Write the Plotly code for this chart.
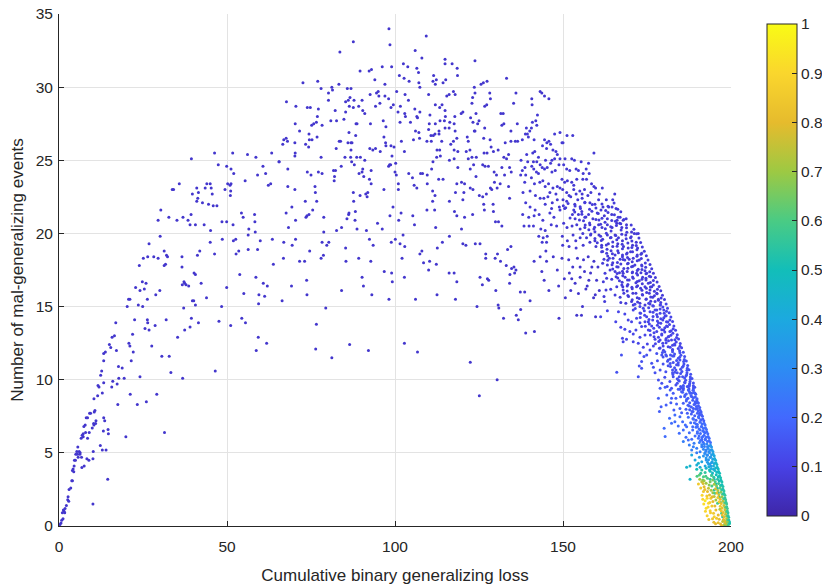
import plotly.graph_objects as go

# points, (loss, events); grouped by region
arm_pts = [
    (46.3,25.5),(51.7,25.5),(56.1,25.4),(58.6,25.2),(63.3,25.5),(39.4,25.1),(47.4,24.7),(49.9,24.6),(51.2,24.4),(52.0,24.1),
    (60.7,24.6),(61.5,24.1),(59.1,24.0),(65.5,24.9),(35.8,23.4),(33.7,23.0),(34.1,23.0),(44.0,23.4),(45.0,23.4),(43.5,23.1),
    (41.0,23.1),(41.5,22.8),(45.3,23.1),(45.6,22.7),(39.7,22.7),(41.3,22.4),(41.0,22.2),(42.7,22.1),(44.5,22.0),(45.9,21.9),
    (47.0,21.9),(49.4,23.0),(50.2,23.4),(50.9,23.3),(51.2,23.4),(51.1,22.9),(51.0,22.6),(55.4,23.6),(63.0,23.4),(62.3,23.3),
    (30.3,21.6),(29.5,20.9),(32.7,21.1),(35.1,20.9),(36.9,21.1),(38.4,20.9),(39.3,21.3),(39.0,20.6),(40.6,20.6),(43.2,20.6),
    (45.1,20.2),(48.5,20.8),(49.9,20.8),(51.8,20.6),(54.3,21.4),(54.8,21.1),(58.2,21.3),(58.3,20.8),(56.5,20.3),(58.4,20.1),
    (56.3,19.9),(30.1,19.8),(26.8,19.3),(48.6,19.6),(45.0,19.4),(51.9,19.5),(52.6,19.6),(59.9,19.5),(63.5,19.6),(31.3,18.8),
    (32.0,18.5),(32.3,18.4),(25.1,18.3),(26.4,18.4),(28.2,18.4),(29.5,18.3),(23.9,17.8),(31.3,17.8),(31.7,17.9),(36.6,18.4),
    (36.6,17.7),(41.2,18.5),(41.9,18.8),(46.3,18.6),(52.7,18.6),(53.5,18.8),(56.3,18.9),(59.1,18.9),(63.8,17.9),(24.8,16.7),
    (25.9,16.6),(22.8,16.3),(24.1,16.1),(25.4,16.2),(30.0,16.1),(28.8,15.8),(21.1,15.5),(20.7,15.5),(26.3,15.5),(20.3,15.0),
    (23.6,15.1),(24.9,15.0),(36.7,16.5),(37.2,16.7),(37.4,16.6),(37.8,16.5),(38.6,16.4),(40.2,17.3),(40.6,17.2),(42.3,16.6),
    (39.7,15.4),(40.1,15.4),(40.6,15.1),(37.1,14.9),(43.9,15.6),(48.4,15.0),(49.9,16.3),(53.8,17.2),(55.0,15.9),(58.6,17.0),
    (60.8,16.6),(62.0,16.4),(59.5,15.8),(61.2,15.7),(59.4,15.2),(16.9,13.9),(22.5,14.1),(26.3,14.1),(26.4,13.9),(25.6,13.5),
    (26.8,13.4),(28.6,13.7),(31.9,14.1),(39.4,14.2),(41.5,13.9),(37.4,13.4),(39.0,13.6),(47.6,14.0),(51.1,13.7),(54.4,14.2),
    (55.5,13.9),(16.5,13.0),(15.8,12.9),(21.9,13.1),(20.8,12.5),(21.1,12.3),(15.0,12.4),(15.4,12.2),(13.8,11.9),(13.3,11.8),
    (13.3,11.3),(17.1,12.0),(27.6,12.3),(22.1,11.9),(21.5,11.3),(30.6,11.6),(32.8,11.6),(35.3,12.9),(33.3,10.5),(36.8,10.1),
    (46.5,10.6),(59.3,12.9),(61.8,12.5),(58.7,12.0),(12.7,10.6),(12.4,10.3),(17.7,10.9),(18.8,10.8),(17.8,10.1),(19.4,10.1),
    (16.0,9.9),(15.7,9.5),(17.3,9.7),(13.3,9.8),(11.6,9.6),(11.9,9.5),(12.9,9.1),(11.5,8.9),(10.4,8.7),(21.2,9.0),
    (24.1,10.2),(29.1,9.0),(23.3,8.3),(26.0,8.5),(17.5,8.3),(10.7,7.9),(10.5,7.8),(9.4,7.7),(9.1,7.7),(8.5,7.4),
    (8.1,7.4),(13.3,7.4),(13.6,7.2),(11.0,7.2),(10.9,7.0),(7.8,6.9),(7.4,6.8),(7.9,6.4),(7.2,6.3),(9.0,6.4),
    (10.3,7.0),(10.4,6.9),(9.9,6.7),(8.5,6.0),(6.6,6.0),(6.9,6.2),(7.2,6.1),(14.6,6.6),(14.7,6.3),(13.2,6.5),
    (19.9,6.1),(31.4,6.4),(5.6,5.4),(5.3,5.1),(6.0,5.1),(6.3,5.0),(5.5,4.9),(5.0,4.9),(6.2,4.9),(6.7,4.7),
    (5.7,4.7),(8.3,4.6),(8.9,4.5),(10.1,4.6),(10.2,5.1),(12.3,5.5),(12.9,5.2),(14.0,5.2),(4.6,4.5),(4.9,4.5),
    (4.5,4.1),(4.2,3.9),(4.0,3.8),(4.4,3.7),(6.8,4.0),(7.5,4.1),(4.0,3.1),(3.8,3.1),(14.5,3.2),(3.5,2.6),
    (3.0,2.5),(2.7,2.0),(2.6,1.8),(2.9,1.7),(2.2,1.4),(1.8,1.2),(1.3,1.1),(1.5,1.0),(1.0,0.9),(1.7,0.9),
    (1.2,0.5),(0.8,0.4),(0.6,0.2),(0.3,0.1),(10.1,1.5),
]

crown_pts = [
    (98.2,34.0),(87.6,33.1),(83.6,32.4),(98.5,32.9),(109.3,33.5),(106.0,32.5),(108.0,32.0),(114.9,31.9),(114.9,31.6),(117.0,31.6),
    (118.5,31.3),(118.6,30.8),(72.6,30.3),(77.0,30.4),(89.6,31.1),(92.3,31.1),(93.0,31.2),(96.2,31.4),(99.0,31.4),(102.5,31.6),
    (103.8,31.4),(106.5,31.3),(107.0,31.0),(101.3,30.8),(102.7,30.6),(104.2,30.4),(94.0,30.5),(97.0,30.2),(107.1,30.3),(107.4,30.0),
    (111.5,30.8),(112.3,30.5),(112.0,30.2),(111.3,30.4),(115.1,30.5),(114.3,30.3),(78.0,29.9),(80.2,29.6),(81.2,30.0),(81.4,29.8),
    (83.3,30.2),(85.8,29.9),(86.9,29.9),(80.2,29.1),(86.6,29.3),(86.1,29.1),(85.3,29.0),(87.8,29.1),(90.2,29.1),(92.6,29.5),
    (94.5,29.6),(95.0,29.7),(95.2,29.4),(97.0,29.4),(98.1,29.2),(100.5,29.7),(103.0,29.5),(104.0,29.1),(110.0,29.5),(115.4,29.4),
    (116.1,29.5),(117.4,29.7),(117.9,29.5),(74.8,28.6),(73.9,28.6),(70.5,28.7),(67.7,29.0),(77.2,28.5),(82.2,28.4),(85.3,28.3),
    (86.4,28.7),(87.6,28.6),(89.2,28.7),(90.4,28.4),(91.0,28.2),(94.2,28.7),(95.5,28.9),(98.8,28.6),(99.5,28.8),(101.6,28.7),
    (100.9,28.3),(102.9,28.2),(103.1,28.0),(105.9,28.5),(106.5,28.0),(107.4,28.3),(110.4,28.1),(112.0,28.8),(113.3,28.6),(114.0,28.8),
    (114.9,28.4),(115.0,28.0),(117.8,28.0),(70.3,27.5),(71.6,27.0),(74.4,26.8),(75.2,27.4),(75.8,27.5),(76.6,27.6),(78.3,27.4),
    (76.9,28.0),(80.9,27.7),(82.6,27.7),(84.8,27.8),(88.4,27.5),(92.7,27.5),(96.5,27.7),(97.3,27.3),(101.5,27.6),(104.6,27.6),
    (106.7,27.9),(110.2,27.5),(112.0,27.5),(113.4,27.7),(114.7,27.7),(116.3,27.6),(117.6,27.5),(114.9,27.2),(116.1,27.2),(117.9,27.0),
    (110.0,27.1),(111.9,26.8),(113.1,27.0),(74.5,26.4),(75.3,26.4),(76.8,26.6),(73.4,26.1),(74.3,25.9),(66.9,26.4),(67.6,26.5),
    (68.0,26.3),(66.6,26.1),(70.2,26.2),(83.8,26.3),(82.5,25.8),(83.4,26.3),(86.9,26.2),(87.2,26.2),(86.0,26.2),(88.3,26.7),
    (86.3,26.9),(88.7,27.5),(86.9,25.7),(92.5,25.8),(93.4,25.7),(94.2,25.8),(95.6,25.6),(96.7,26.6),(97.2,26.2),(97.3,26.0),
    (98.8,26.0),(99.7,25.9),(101.9,26.3),(102.8,25.6),(105.5,26.4),(106.1,27.0),(107.1,26.9),(107.3,26.5),(109.5,26.3),(110.7,26.7),
    (111.4,26.7),(110.8,26.3),(113.1,26.8),(113.9,26.3),(116.6,26.1),(117.4,26.3),(118.4,26.5),(112.5,25.7),(113.3,25.7),(117.6,25.7),
    (118.7,25.6),(68.1,24.4),(65.5,24.9),(70.3,25.5),(70.2,25.3),(73.9,24.2),(75.0,24.0),(77.2,24.2),(78.3,24.1),(78.0,25.2),
    (76.2,23.2),(76.3,22.8),(76.7,22.2),(73.3,22.2),(73.5,21.1),(73.8,21.2),(74.4,21.3),(75.5,21.6),(78.8,21.1),(78.8,20.1),
    (82.6,20.2),(84.1,20.4),(85.7,21.0),(86.2,21.3),(86.3,21.4),(88.1,20.9),(88.2,21.5),(88.7,20.3),(81.7,24.3),(82.3,24.3),
    (82.0,23.9),(81.9,23.6),(84.0,24.6),(85.1,25.2),(86.8,25.2),(87.1,24.9),(87.9,24.7),(88.6,25.2),(89.7,25.2),(91.0,25.0),
    (90.4,24.4),(90.2,24.2),(89.3,24.1),(90.7,23.9),(92.9,24.3),(92.4,23.7),(92.9,23.4),(87.6,22.8),(87.7,22.2),(89.6,22.6),
    (91.3,22.7),(91.9,22.8),(91.7,22.5),(96.7,23.0),(98.1,24.6),(98.4,24.7),(98.7,24.7),(99.1,25.3),(100.0,24.2),(100.4,24.0),
    (100.2,24.8),(101.0,23.4),(101.0,23.0),(99.4,21.8),(98.5,21.2),(101.8,21.4),(101.1,20.9),(94.8,20.7),(96.2,20.3),(91.5,20.2),
    (104.1,24.1),(105.2,23.8),(105.7,23.3),(106.5,23.1),(107.6,24.1),(108.2,24.1),(109.6,24.0),(109.6,23.4),(110.9,24.4),(111.3,24.9),
    (112.4,25.2),(113.0,23.7),(114.3,23.7),(113.5,25.3),(116.2,25.0),(117.6,25.1),(118.7,24.5),(118.4,23.4),(118.0,22.8),(116.2,22.2),
    (117.7,21.5),(118.4,21.2),(111.2,22.9),(111.9,22.6),(111.2,22.2),(111.8,21.6),(109.5,21.6),(105.3,21.2),(105.8,20.6),(112.1,20.4),
    (116.2,19.8),(114.1,19.4),(112.6,19.0),(110.3,18.1),(108.5,18.0),(110.0,17.5),(112.3,17.9),(116.1,17.3),(117.6,17.3),(118.4,16.7),
    (118.0,15.5),(112.5,15.8),(107.4,18.6),(108.0,18.8),(106.1,15.5),(106.7,11.9),(102.8,12.5),(102.4,19.9),(102.9,19.1),(102.1,18.3),
    (101.5,19.3),(100.1,19.6),(98.9,19.4),(96.8,17.4),(99.0,17.3),(99.2,16.7),(98.2,15.5),(102.8,17.0),(93.5,19.2),(92.4,19.6),
    (92.8,18.1),(90.2,17.0),(90.6,16.4),(93.1,15.8),(89.2,18.3),(85.3,19.0),(85.4,18.1),(84.1,16.1),(80.3,19.4),(79.7,19.2),
    (78.3,19.4),(78.0,18.3),(78.7,18.5),(74.6,18.8),(73.7,16.8),(73.8,15.8),(73.1,18.1),(71.6,18.1),(70.4,19.6),(69.4,19.2),
    (69.2,16.4),(66.9,19.4),(66.8,18.3),(66.4,15.4),(79.4,14.9),(76.6,13.8),(76.4,12.1),(81.2,11.5),(86.5,12.4),(92.1,12.0),
    (68.3,20.4),(67.6,21.4),(69.3,21.8),(70.4,20.9),(68.1,23.2),(70.2,23.0),
]

shoulder_pts = [
    (123.8,31.8),(133.2,30.6),(136.0,29.6),(143.2,29.7),(143.7,29.6),(144.5,29.4),(145.8,29.2),(140.7,29.2),(140.8,28.8),(135.3,28.9),
    (136.4,27.5),(134.5,27.0),(134.5,26.3),(135.8,26.3),(136.5,26.3),(132.8,26.2),(131.8,27.4),(132.4,27.5),(132.2,28.2),(131.5,28.2),
    (126.7,28.7),(127.3,28.8),(128.4,29.2),(128.2,29.6),(126.3,30.3),(127.4,30.4),(125.6,30.2),(123.6,30.0),(123.8,29.6),(122.9,28.9),
    (123.1,29.3),(124.1,28.2),(122.5,27.9),(123.2,27.6),(124.6,27.5),(125.0,27.7),(126.7,27.2),(120.2,28.3),(119.7,28.2),(123.8,27.0),
    (123.6,27.0),(121.5,26.6),(121.8,26.3),(121.2,25.6),(122.3,25.7),(121.8,25.1),(126.4,26.5),(128.3,26.4),(128.6,25.9),(129.3,25.6),
    (126.5,25.5),(127.4,25.5),(130.7,25.7),(132.4,25.2),(133.2,25.1),(133.8,25.4),(124.2,25.2),(122.9,25.2),(123.4,24.7),(122.4,24.4),
    (126.1,24.7),(126.8,24.6),(127.8,24.6),(129.5,24.2),(130.2,24.0),(129.6,23.5),(131.3,23.4),(130.4,23.1),(131.8,24.5),(134.1,24.5),
    (134.6,24.2),(132.6,24.0),(124.1,23.9),(125.1,22.6),(126.1,22.5),(127.2,22.7),(122.4,23.1),(123.2,23.0),(120.7,23.4),(119.8,23.5),
    (120.5,22.8),(120.2,22.3),(128.4,23.1),(128.8,23.0),(133.8,23.2),(134.1,22.4),(129.3,21.5),(129.9,20.8),(130.8,20.8),(131.8,20.5),
    (126.4,22.0),(126.6,21.6),(129.2,22.0),(123.1,21.3),(120.7,21.1),(119.8,20.3),(120.2,19.3),(121.1,19.2),(125.3,19.3),(123.9,19.3),
    (127.0,18.6),(127.0,18.3),(129.8,18.3),(130.5,18.6),(131.4,18.1),(133.1,17.8),(133.5,18.9),(134.5,19.1),(135.4,17.7),(134.7,17.6),
    (135.6,17.3),(136.0,17.5),(134.2,17.2),(134.1,16.6),(125.3,17.0),(126.0,16.5),(127.5,16.9),(127.9,16.8),(130.0,16.1),(137.3,16.0),
    (138.6,16.0),(140.2,15.4),(124.4,15.0),(130.7,15.1),(130.9,14.9),(132.3,14.2),(137.4,14.8),(136.7,14.1),(136.1,14.4),(138.9,13.2),
    (141.5,13.3),(122.4,11.2),(130.4,10.0),(125.1,8.9),
    (143.7,17.4),(145.8,16.1),(144.4,16.8),(148.7,16.4),(150.4,16.9),(150.7,15.6),(152.6,16.9),(154.1,14.4),(155.5,14.4),(155.8,15.0),
    (156.8,16.2),(157.2,16.4),(158.2,17.3),(158.6,17.7),(159.1,15.6),(159.7,14.3),(148.8,14.2),(144.9,18.8),(147.1,18.4),(143.2,18.4),
    (145.1,18.1),(141.4,18.1),(148.3,17.5),(149.7,18.3),(151.7,18.2),(152.9,17.7),(154.3,18.3),(155.1,17.7),(156.1,18.2),(157.5,18.4),
    (159.2,18.1),(160.4,17.7),(160.0,16.8),(160.8,16.1),(159.6,15.8),(151.9,17.3),(153.6,16.6),(155.1,17.0),(156.4,17.4),(157.7,16.8),
    (154.6,15.9),(152.3,16.1),
]

ridge_pts = [
    (142.4,28.1),(141.9,27.7),(140.9,27.6),(139.1,27.2),(138.8,26.8),(139.4,26.8),(140.1,27.0),(140.6,27.2),(139.7,26.6),(137.9,26.4),
    (141.4,26.4),(147.5,26.8),(149.1,26.9),(151.2,26.7),(152.9,26.7),(144.5,26.4),(145.2,26.2),(145.8,26.3),(146.3,26.1),(149.7,26.2),
    (150.0,26.2),(142.2,27.4),(143.9,26.0),(145.1,25.8),(147.0,25.7),(147.9,25.6),(148.3,25.4),(141.6,25.6),(141.0,25.5),(139.2,25.4),
    (139.5,24.9),(141.2,24.9),(142.2,24.9),(142.7,25.2),(143.2,24.7),(144.8,25.0),(146.3,24.8),(146.7,25.0),(147.5,25.1),(149.1,25.1),
    (150.6,25.1),(152.6,25.1),(153.4,25.0),(155.4,24.9),(157.6,24.8),(159.2,25.5),(137.5,25.0),(137.9,24.3),(138.7,24.5),(140.7,24.6),
    (141.3,24.4),(142.1,24.2),(143.8,24.5),(144.5,24.4),(145.3,24.5),(146.7,24.2),(147.7,24.3),(148.8,24.7),(150.2,24.7),(151.1,24.4),
    (152.0,24.3),(153.9,24.4),(154.6,24.3),(156.0,24.1),(157.8,24.1),(156.9,24.4),(137.4,24.0),(138.9,24.0),(142.7,24.1),(138.6,23.5),
    (140.6,23.8),(141.5,23.4),(143.1,23.5),(144.0,23.6),(144.7,23.2),(145.7,23.4),(146.1,22.8),(147.0,23.1),(148.3,23.2),(149.7,23.7),
    (150.5,23.5),(151.3,23.6),(152.6,23.5),(153.2,23.3),(154.1,23.7),(155.9,23.7),(157.0,23.7),(158.5,23.4),(159.2,23.2),(147.9,22.7),
    (149.1,23.1),(149.9,23.0),(151.1,22.8),(151.8,22.6),(153.2,23.0),(153.9,22.7),(155.0,22.9),(155.7,22.7),(156.4,23.0),(157.4,22.6),
    (158.3,22.8),(159.7,23.1),(160.8,22.7),(161.7,23.1),(138.1,22.8),(140.2,22.9),(141.8,22.6),(143.2,22.4),(144.3,22.4),(145.5,22.5),
    (146.8,22.1),(148.3,22.3),(150.0,22.3),(151.1,22.2),(152.3,22.5),(153.5,22.0),(154.4,22.3),(155.7,22.4),(156.5,22.1),(158.0,22.1),
    (159.5,22.0),(160.6,22.3),(161.9,21.8),(162.9,22.3),(163.6,21.8),(164.8,22.3),(165.4,22.7),(165.8,21.7),(138.9,22.1),(141.7,21.6),
    (140.2,21.8),(144.7,22.0),(146.6,21.7),(148.9,21.8),(150.1,21.9),(155.2,21.7),(138.0,21.3),(139.8,21.1),(141.4,21.2),(142.9,21.3),
    (144.0,20.9),(146.1,21.4),(147.3,21.1),(149.1,21.6),(150.5,21.7),(152.8,21.3),(153.6,21.0),(154.6,21.3),(155.6,21.5),(156.5,21.1),
    (157.6,21.3),(158.9,21.0),(160.2,21.4),(161.3,21.6),(162.3,21.2),(163.2,21.0),(164.5,21.3),(166.1,20.9),(167.0,21.1),(167.9,20.9),
    (168.8,21.0),(138.4,20.5),(139.9,20.5),(141.2,20.5),(143.4,20.3),(144.7,20.2),(146.5,20.6),(148.1,20.5),(150.2,20.7),(151.2,20.4),
    (152.7,20.5),(154.1,20.6),(155.1,20.3),(156.5,20.4),(158.0,20.6),(159.2,20.3),(160.6,20.6),(161.6,20.4),(163.2,20.6),(164.6,20.4),
    (166.0,20.7),(166.9,20.7),(167.5,20.4),(168.9,20.6),(170.4,20.1),(171.2,20.0),(172.4,20.0),(142.8,19.8),(144.1,19.7),(145.3,19.8),
    (145.1,19.4),(143.8,19.4),(149.8,19.8),(151.3,19.5),(153.0,19.9),(153.8,19.5),(155.1,19.7),(155.9,20.0),(157.0,19.7),(158.2,19.9),
    (159.5,19.5),(160.7,19.9),(161.8,19.6),(163.2,19.9),(164.1,19.7),(165.5,19.9),(166.5,19.7),(167.7,19.5),(168.7,19.9),(170.1,19.7),
    (171.8,19.4),(149.9,19.2),(151.8,19.1),(153.9,19.0),(156.0,19.2),(158.0,19.4),(159.8,19.1),(161.5,19.2),(163.5,19.3),(164.8,19.1),
    (166.3,19.3),(168.0,19.1),(169.4,19.0),(170.7,19.2),(172.2,19.0),
]

# thick core of the band, where single dots can no longer be told apart
core_upper_pts = [
    (151.5,22.05),(153.6,21.88),(156.5,22.13),(158.7,21.97),(161.6,22.01),(163.4,21.86),(165.2,22.08),
    (150.8,21.75),(153.2,21.6),(155.1,21.83),(157.9,21.66),(159.8,21.74),(162.7,21.57),(164.6,21.8),(166.3,21.65),
    (153.5,21.47),(155.6,21.31),(158.6,21.52),(160.5,21.36),(163.4,21.43),(165.3,21.27),(167.2,21.49),
    (152.1,21.06),(154.9,20.91),(156.8,21.12),(159.8,20.96),(161.6,21.04),(164.5,20.88),(166.4,21.1),(168.1,20.95),
    (156.1,20.86),(157.9,20.71),(160.7,20.92),(162.5,20.76),(165.6,20.83),(167.2,20.67),
    (156.6,20.57),(159.4,20.42),(161.2,20.62),(164.2,20.46),(165.9,20.54),(168.9,20.38),(170.3,20.58),
    (157.7,20.26),(159.5,20.11),(162.6,20.32),(164.3,20.16),(167.3,20.24),(169.0,20.08),(171.1,20.28),
    (158.3,19.96),(161.2,19.81),(162.9,20.02),(165.7,19.86),(167.5,19.94),(170.3,19.78),(171.9,19.98),
    (159.5,19.66),(161.4,19.51),(164.3,19.72),(166.0,19.56),(168.8,19.64),(170.5,19.48),(172.6,19.68),
    (160.2,19.36),(162.9,19.21),(164.8,19.42),(167.6,19.26),(169.3,19.34),(171.8,19.18),(173.1,19.38),
    (161.5,19.06),(163.1,18.91),(166.1,19.12),(167.7,18.96),(170.5,19.04),(172.0,18.88),(173.6,19.08),
    (161.8,18.76),(164.7,18.61),(166.3,18.82),(169.1,18.66),(170.7,18.74),(173.2,18.58),(174.2,18.78),
    (163.3,18.46),(164.9,18.31),(167.7,18.52),(169.2,18.36),(172.0,18.44),(173.3,18.28),(174.8,18.48),
    (163.3,18.16),(166.2,18.01),(167.9,18.22),(170.6,18.06),(172.1,18.14),(174.5,17.98),(175.3,18.18),
    (164.6,17.86),(166.4,17.71),(169.2,17.92),(170.8,17.76),(173.4,17.84),(174.6,17.68),(175.9,17.88),
    (164.8,17.56),(167.7,17.41),(169.3,17.62),(172.1,17.46),(173.5,17.54),(175.8,17.38),(176.4,17.58),
    (166.1,17.26),(167.8,17.11),(170.6,17.32),(172.2,17.16),(174.7,17.24),(175.7,17.08),(176.9,17.28),
    (166.3,16.96),(169.2,16.81),(170.7,17.02),(173.5,16.86),(174.7,16.94),(176.9,16.78),(177.5,16.98),
    (167.6,16.66),(169.3,16.51),(172.1,16.72),(173.6,16.56),(176.0,16.64),(176.9,16.48),(178.0,16.68),
    (167.8,16.36),(170.6,16.21),(172.2,16.42),(174.8,16.26),(176.0,16.34),(178.1,16.18),(178.6,16.38),
    (169.1,16.06),(170.8,15.91),(173.5,16.12),(174.9,15.96),(177.2,16.04),(178.0,15.88),(179.1,16.08),
    (169.3,15.76),(172.1,15.61),(173.6,15.82),(176.1,15.66),(177.2,15.74),(179.2,15.58),(179.6,15.78),
    (170.6,15.46),(172.2,15.31),(174.8,15.52),(176.1,15.36),(178.4,15.44),(179.1,15.28),(180.2,15.48),
]

band_hi_pts = [
    (161.5,18.75),(163.0,18.64),(164.3,18.82),(165.5,18.52),(166.5,18.68),(167.7,18.41),(168.9,18.59),(170.1,18.75),(170.9,18.30),(172.1,18.52),
    (173.4,18.64),(172.7,18.18),(162.2,18.23),(163.8,18.30),(167.0,18.23),(168.4,18.18),(169.7,18.23),(161.8,17.96),(163.2,17.84),(164.8,18.0),
    (166.0,17.73),(167.2,17.91),(168.1,17.61),(169.4,17.96),(170.4,17.73),(171.4,17.84),(172.4,17.55),(173.5,17.77),(174.4,17.45),(174.9,17.27),
    (164.0,17.5),(165.5,17.39),(166.8,17.32),(167.9,17.27),(169.1,17.39),(170.7,17.36),(171.9,17.27),(173.2,17.32),(162.5,17.27),(162.0,16.70),
    (163.0,16.93),(164.5,16.86),(165.8,17.04),(166.8,16.77),(167.5,16.47),(168.5,17.0),(169.7,16.82),(170.9,16.93),(171.7,16.63),(172.7,16.77),
    (173.7,17.0),(174.7,16.82),(175.4,16.59),(176.1,17.04),(176.4,16.36),(174.4,16.36),(173.1,16.25),(171.9,16.36),(170.5,16.32),(169.1,16.41),
    (167.9,16.13),(166.0,16.36),(164.2,16.18),(162.8,16.13),(175.9,16.13),(162.2,15.68),(162.4,15.34),(165.5,15.79),(167.0,15.63),(168.1,15.91),
    (169.5,15.68),(170.4,15.34),(171.7,15.91),(172.7,15.56),(173.7,15.79),(174.7,15.50),(175.7,15.91),(176.7,15.63),(177.4,15.34),(178.4,15.50),
    (177.9,15.91),(172.9,15.22),(174.4,15.11),(175.9,15.18),(176.9,15.04),(178.9,15.11),(170.9,15.11),(168.7,15.22),(167.2,15.27),
]

band_mid_pts = [
    (161.2,14.31),(163.2,14.72),(166.5,14.65),(168.4,14.49),(169.4,14.08),(170.9,14.77),(171.9,14.2),(173.1,14.54),(173.9,14.88),(174.9,14.31),
    (175.9,14.65),(176.7,14.08),(177.4,14.77),(178.1,14.31),(178.9,14.54),(179.7,14.08),(180.0,14.77),(180.4,14.36),(180.8,13.97),(175.4,13.97),
    (172.9,13.9),(165.7,13.97),(170.4,13.97),(178.4,13.9),(167.2,13.58),(168.4,13.45),(167.7,12.83),(168.9,12.76),(170.9,13.13),(171.7,13.4),
    (173.4,13.63),(174.4,13.06),(175.4,13.4),(176.4,13.67),(177.1,12.94),(177.9,13.29),(178.7,13.58),(179.4,13.06),(180.0,13.4),(180.8,13.67),
    (181.3,12.94),(181.8,13.29),(182.3,12.72),(180.6,12.72),(178.9,12.72),(172.9,12.9),(169.9,13.29),(167.9,12.6),(170.9,12.6),(172.4,12.49),
    (173.9,12.22),(175.1,12.44),(175.9,12.03),(176.9,12.31),(178.7,12.15),(179.7,12.49),(181.3,12.26),(182.6,12.03),(183.3,12.37),
    (171.4,15.16),(172.9,15.01),(175.5,15.22),(176.7,15.06),(179.0,15.13),(179.7,14.97),(180.7,15.18),
    (171.5,14.86),(174.2,14.71),(175.5,14.92),(177.9,14.76),(178.9,14.84),(180.8,14.68),(181.1,14.88),
    (172.9,14.56),(174.3,14.41),(176.8,14.62),(177.9,14.46),(180.1,14.54),(180.7,14.38),(181.6,14.58),
    (173.0,14.26),(175.6,14.11),(176.8,14.32),(179.1,14.16),(180.0,14.24),(181.8,14.08),(182.1,14.28),
    (174.4,13.96),(175.7,13.81),(178.1,14.02),(179.1,13.86),(181.2,13.94),(181.7,13.78),(182.6,13.98),
    (174.5,13.66),(177.0,13.51),(178.1,13.72),(180.3,13.56),(181.1,13.64),(182.8,13.48),(183.0,13.68),
    (175.9,13.36),(177.1,13.21),(179.4,13.42),(180.3,13.26),(182.2,13.34),(182.7,13.18),(183.5,13.38),
    (176.0,13.06),(178.4,12.91),(179.4,13.12),(181.5,12.96),(182.1,13.04),(183.8,12.88),(184.0,13.08),
    (177.4,12.76),(178.5,12.61),(180.7,12.82),(181.4,12.66),(183.3,12.74),(183.7,12.58),(184.4,12.78),
    (177.5,12.46),(179.8,12.31),(180.7,12.52),(182.6,12.36),(183.2,12.44),(184.8,12.28),(184.9,12.48),
    (178.9,12.16),(179.9,12.01),(181.9,12.22),(182.6,12.06),(184.3,12.14),(184.7,11.98),(185.3,12.18),
]

band_lo_pts = [
    (177.9,11.8),(180.3,11.92),(182.0,11.69),(183.0,11.62),(180.8,11.62),(179.4,11.69),(172.9,11.85),(174.9,11.69),(167.4,11.69),(174.1,11.58),
    (173.4,11.24),(176.4,11.12),(176.9,10.85),(178.1,11.3),(178.9,10.67),(179.8,11.08),(180.6,10.55),(181.3,11.35),(182.0,10.9),(182.8,11.17),
    (183.6,10.67),(184.3,11.01),(184.8,11.35),(184.0,10.48),(182.6,10.48),(173.4,10.78),(172.7,10.94),(177.4,10.48),(166.0,10.51),(172.4,10.21),
    (178.4,9.98),(179.4,9.76),(180.3,10.17),(181.0,9.53),(181.8,9.87),(182.8,10.21),(183.6,9.64),(184.3,9.98),(185.0,9.53),(185.6,10.21),
    (186.3,9.8),(187.0,9.53),(187.6,9.57),(184.8,9.35),(182.3,9.41),(185.8,9.41),
    (179.6,11.86),(180.6,11.71),(182.6,11.92),(183.2,11.76),(184.8,11.84),(185.1,11.68),(185.8,11.88),
    (179.8,11.56),(181.9,11.41),(182.6,11.62),(184.3,11.46),(184.7,11.54),(186.1,11.38),(186.2,11.58),
    (181.1,11.26),(181.9,11.11),(183.8,11.32),(184.3,11.16),(185.9,11.24),(186.0,11.08),(186.7,11.28),
    (181.3,10.96),(183.2,10.81),(183.8,11.02),(185.5,10.86),(185.8,10.94),(187.0,10.78),(187.1,10.98),
    (182.6,10.66),(183.3,10.51),(185.0,10.72),(185.4,10.56),(186.9,10.64),(186.9,10.48),(187.5,10.68),
    (182.7,10.36),(184.6,10.21),(185.0,10.42),(186.6,10.26),(186.8,10.34),(187.9,10.18),(188.0,10.38),
    (184.0,10.06),(184.6,9.91),(186.2,10.12),(186.5,9.96),(187.9,10.04),(187.8,9.88),(188.4,10.08),
    (184.0,9.76),(185.8,9.61),(186.2,9.82),(187.6,9.66),(187.7,9.74),(188.8,9.58),(188.8,9.78),
    (185.3,9.46),(185.8,9.31),(187.3,9.52),(187.5,9.36),(188.8,9.44),(188.7,9.28),(189.2,9.48),
]

tail_a_pts = [
    (178.9,9.41),(180.4,9.48),(181.9,9.30),(182.8,9.07),(184.3,9.34),(185.3,9.18),(186.3,8.96),(187.3,9.30),(188.3,8.84),(189.3,9.07),
    (189.8,8.61),(180.9,8.96),(178.4,8.73),(183.6,8.73),(185.0,8.84),(186.8,8.66),(187.8,9.07),(188.8,9.30),(185.8,9.52),(182.3,8.73),
    (178.7,7.82),(179.2,8.16),(180.7,8.27),(182.1,8.43),(183.0,7.93),(183.8,8.34),(184.8,8.04),(185.8,8.39),(186.6,7.98),(187.6,8.20),
    (188.4,7.82),(189.3,8.34),(190.0,8.04),(190.6,7.7),(187.0,7.7),(185.3,7.75),(189.8,8.43),(188.8,8.04),
    (185.6,9.15),(186.7,9.03),(187.6,9.2),(188.3,9.07),(189.0,9.12),(189.5,9.0),
    (186.2,8.85),(187.2,8.73),(188.1,8.9),(188.8,8.77),(189.4,8.82),(189.9,8.7),
    (186.7,8.55),(187.7,8.43),(188.6,8.6),(189.3,8.47),(189.9,8.52),(190.3,8.4),
    (187.2,8.25),(188.2,8.13),(189.0,8.3),(189.7,8.17),(190.3,8.22),(190.7,8.1),
    (187.7,7.95),(188.7,7.83),(189.5,8.0),(190.2,7.87),(190.8,7.92),(191.1,7.8),
    (188.2,7.65),(189.2,7.53),(190.0,7.7),(190.6,7.57),(191.2,7.62),(191.5,7.5),
    (188.7,7.35),(189.6,7.23),(190.4,7.4),(191.0,7.27),(191.6,7.32),(191.9,7.2),
]

tail_b_pts = [
    (181.7,7.36),(182.3,7.02),(183.3,7.13),(184.8,7.47),(185.6,7.13),(186.4,6.9),(187.3,7.43),(188.0,7.06),(188.8,7.29),(189.6,6.97),
    (190.3,7.47),(190.8,7.13),(191.3,6.79),(190.0,6.79),(188.6,6.79),(186.8,6.79),(184.3,6.84),(183.3,7.59),(180.1,6.68),(180.4,6.11),
    (184.6,6.34),(185.8,6.56),(186.6,6.06),(187.6,6.38),(188.6,6.56),(189.3,6.15),(190.0,6.34),(190.8,6.56),(191.6,6.11),(192.0,6.45),
    (192.3,5.93),(191.3,5.88),(190.3,5.99),(188.3,5.93),(187.3,5.88),
    (189.1,7.05),(190.0,6.93),(190.8,7.1),(191.4,6.97),(192.0,7.02),(192.3,6.9),
    (189.6,6.75),(190.5,6.63),(191.2,6.8),(191.8,6.67),(192.4,6.72),(192.7,6.6),
    (190.0,6.45),(190.9,6.33),(191.6,6.5),(192.2,6.37),(192.8,6.42),(193.1,6.3),
    (190.5,6.15),(191.3,6.03),(192.0,6.2),(192.6,6.07),(193.2,6.12),(193.5,6.0),
    (190.9,5.85),(191.7,5.73),(192.4,5.9),(193.0,5.77),(193.5,5.82),(193.9,5.7),
]

tail_c_pts = [
    (185.8,5.77),(187.6,5.54),(188.3,5.20),(189.0,5.65),(189.8,5.31),(190.6,5.70),(191.3,5.42),(192.0,5.61),(192.6,5.20),(193.0,5.42),
    (193.4,5.08),(192.3,5.01),(190.8,5.08),(189.8,5.01),(188.8,5.42),
]

# colour value for each group above (all points in a group share it)
arm_level = 0.06
crown_level = 0.06
shoulder_level = 0.06
ridge_level = 0.07
core_upper_level = 0.08
band_hi_level = 0.08
band_mid_level = 0.11
band_lo_level = 0.14
tail_a_level = 0.17
tail_b_level = 0.21
tail_c_level = 0.26

# bottom of the tail: (loss, events, colour value)
tip_pts = [
    (186.8,4.01,0.45),(187.8,4.10,0.45),(188.3,4.85,0.4),(189.3,4.51,0.4),(189.8,4.17,0.42),(190.6,4.70,0.35),(191.3,4.40,0.38),
    (191.8,4.79,0.32),(192.6,4.51,0.33),(193.3,4.24,0.35),(193.8,4.70,0.3),(194.2,4.33,0.32),(193.0,4.85,0.3),(190.3,4.29,0.45),
    (190.8,4.01,0.42),(192.3,4.10,0.4),(194.0,4.10,0.35),(187.8,3.19,0.45),(189.8,3.88,0.5),(190.6,3.49,0.62),(191.3,3.83,0.55),
    (191.8,3.37,0.6),(192.3,3.65,0.55),(193.0,3.26,0.6),(193.6,3.83,0.5),(194.3,3.49,0.45),(194.8,3.88,0.4),(195.0,3.19,0.45),
    (193.8,3.19,0.55),(192.6,3.94,0.45),(191.6,3.15,0.65),(190.3,2.87,0.85),(191.3,3.03,0.75),(192.0,2.69,0.8),(192.6,2.92,0.7),
    (193.3,2.58,0.75),(193.8,3.03,0.65),(194.3,2.74,0.6),(195.0,2.46,0.55),(195.5,2.87,0.5),(195.9,2.58,0.48),(193.0,2.35,0.8),
    (191.8,2.35,0.85),(194.6,2.28,0.7),(195.2,2.24,0.6),(196.2,2.28,0.5),(191.6,1.83,0.9),(192.3,1.73,0.95),(192.8,2.05,0.85),
    (193.3,1.55,0.9),(194.0,1.89,0.85),(194.6,1.67,0.8),(195.0,2.01,0.75),(195.5,1.78,0.7),(196.0,1.55,0.6),(196.5,1.96,0.55),
    (196.9,1.60,0.52),(194.3,1.37,0.85),(195.2,1.37,0.8),(193.6,2.12,0.82),(192.6,1.21,0.92),(193.8,1.05,0.88),(194.8,0.87,0.85),
    (195.5,1.10,0.82),(196.2,0.76,0.8),(196.7,1.14,0.72),(197.2,0.87,0.6),(197.5,0.64,0.55),(195.7,0.53,0.85),(196.5,0.46,0.82),
    (195.0,0.64,0.88),(196.2,0.23,0.82),(196.9,0.14,0.8),(197.5,0.30,0.75),(197.9,0.05,0.7),(198.3,0.19,0.55),(198.7,0.05,0.5),
    (197.2,0.05,0.8),(198.5,0.05,0.6),(198.9,0.07,0.5),(197.7,0.41,0.72),
    (191.0,2.6,0.85),(191.4,2.1,0.9),(191.9,1.5,0.92),(192.4,1.0,0.9),(192.9,0.7,0.88),(193.4,0.45,0.85),(193.9,0.9,0.86),
    (193.2,1.3,0.9),(192.2,2.5,0.82),(191.7,2.9,0.78),(194.5,0.5,0.84),(194.9,0.25,0.82),(195.4,0.15,0.8),(193.7,1.6,0.88),
    (194.4,2.0,0.8),(192.9,1.9,0.9),(190.7,3.2,0.7),(189.9,3.4,0.6),(191.0,3.6,0.55),(192.0,3.1,0.7),(194.1,2.45,0.72),
    (193.5,2.8,0.68),(192.5,3.4,0.6),
    (191.3,5.55,0.27),(192.1,5.43,0.26),(192.8,5.6,0.28),(193.4,5.47,0.3),(193.9,5.52,0.32),(194.2,5.4,0.34),
    (191.8,5.25,0.28),(192.5,5.13,0.28),(193.2,5.3,0.3),(193.8,5.17,0.33),(194.3,5.22,0.35),(194.6,5.1,0.37),
    (192.2,4.95,0.3),(192.9,4.83,0.3),(193.6,5.0,0.32),(194.2,4.87,0.35),(194.7,4.92,0.38),(195.0,4.8,0.4),
    (192.6,4.65,0.33),(193.3,4.53,0.33),(194.0,4.7,0.35),(194.6,4.57,0.38),(195.1,4.62,0.41),(195.4,4.5,0.43),
    (193.0,4.35,0.36),(193.7,4.23,0.36),(194.4,4.4,0.38),(195.0,4.27,0.41),(195.5,4.32,0.44),(195.8,4.2,0.46),
    (193.4,4.05,0.42),(194.1,3.93,0.4),(194.8,4.1,0.42),(195.4,3.97,0.44),(195.9,4.02,0.46),(196.2,3.9,0.48),
    (193.8,3.75,0.5),(194.5,3.63,0.47),(195.2,3.8,0.46),(195.8,3.67,0.47),(196.3,3.72,0.48),(196.6,3.6,0.5),
    (194.2,3.45,0.58),(194.9,3.33,0.55),(195.6,3.5,0.5),(196.2,3.37,0.49),(196.6,3.42,0.5),(196.9,3.3,0.52),
    (194.6,3.15,0.66),(195.3,3.03,0.6),(196.0,3.2,0.54),(196.5,3.07,0.5),(197.0,3.12,0.5),(197.3,3.0,0.52),
    (195.0,2.85,0.72),(195.7,2.73,0.66),(196.3,2.9,0.58),(196.9,2.77,0.52),(197.3,2.82,0.5),(197.6,2.7,0.53),
    (195.4,2.55,0.78),(196.1,2.43,0.72),(196.7,2.6,0.62),(197.2,2.47,0.55),(197.6,2.52,0.52),(197.9,2.4,0.55),
    (195.8,2.25,0.82),(196.4,2.13,0.76),(197.0,2.3,0.66),(197.5,2.17,0.57),(197.9,2.22,0.53),(198.2,2.1,0.56),
    (196.1,1.95,0.85),(196.8,1.83,0.8),(197.3,2.0,0.7),(197.8,1.87,0.6),(198.2,1.92,0.55),(198.4,1.8,0.57),
    (196.5,1.65,0.86),(197.1,1.53,0.82),(197.6,1.7,0.74),(198.1,1.57,0.63),(198.5,1.62,0.56),(198.7,1.5,0.58),
    (196.8,1.35,0.85),(197.4,1.23,0.82),(197.9,1.4,0.76),(198.3,1.27,0.66),(198.7,1.32,0.57),(198.9,1.2,0.58),
    (197.1,1.05,0.84),(197.7,0.93,0.82),(198.2,1.1,0.76),(198.6,0.97,0.66),(198.9,1.02,0.57),(199.1,0.9,0.55),
    (197.4,0.75,0.82),(198.0,0.63,0.8),(198.4,0.8,0.74),(198.8,0.67,0.64),(199.1,0.72,0.56),(199.3,0.6,0.53),
    (197.8,0.45,0.8),(198.3,0.33,0.78),(198.7,0.5,0.72),(199.0,0.37,0.62),(199.3,0.42,0.55),(199.5,0.3,0.52),
    (198.2,0.2,0.78),(198.6,0.12,0.74),(199.0,0.25,0.68),(199.3,0.1,0.6),(199.6,0.18,0.52),
]

parula = [
    [0.0, "rgb(62,38,168)"], [0.1, "rgb(71,65,229)"], [0.2, "rgb(66,105,254)"], [0.3, "rgb(45,140,243)"],
    [0.4, "rgb(28,169,223)"], [0.5, "rgb(18,190,185)"], [0.6, "rgb(74,203,132)"], [0.7, "rgb(157,201,67)"],
    [0.8, "rgb(230,187,45)"], [0.9, "rgb(250,214,45)"], [1.0, "rgb(249,251,21)"],
]

fig = go.Figure()

groups = [
    (arm_pts, arm_level), (crown_pts, crown_level), (shoulder_pts, shoulder_level), (ridge_pts, ridge_level),
    (core_upper_pts, core_upper_level), (band_hi_pts, band_hi_level), (band_mid_pts, band_mid_level),
    (band_lo_pts, band_lo_level), (tail_a_pts, tail_a_level), (tail_b_pts, tail_b_level), (tail_c_pts, tail_c_level),
]
for pts, level in groups:
    xs, ys = zip(*pts)
    fig.add_trace(go.Scatter(
        x=xs, y=ys, mode="markers", showlegend=False, hoverinfo="skip",
        marker=dict(size=3, color=[level] * len(xs), coloraxis="coloraxis", line=dict(width=0)),
    ))

xs, ys, cs = zip(*tip_pts)
fig.add_trace(go.Scatter(
    x=xs, y=ys, mode="markers", showlegend=False, hoverinfo="skip",
    marker=dict(size=3, color=cs, coloraxis="coloraxis", line=dict(width=0)),
))

axis_style = dict(
    showgrid=True, gridcolor="#e3e3e3", gridwidth=1, zeroline=False,
    showline=True, linecolor="#262626", linewidth=1, mirror=False,
    ticks="inside", ticklen=5, tickcolor="#262626", automargin=False,
    ticklabeloverflow="allow", tickfont=dict(size=15.5, color="#262626"),
)

# the page body adds 8 px round the figure, so the figure is 8 px smaller
fig.update_layout(
    width=822, height=580,
    margin=dict(l=51, r=99, t=6, b=62, autoexpand=False),
    paper_bgcolor="white", plot_bgcolor="white",
    font=dict(family="Liberation Sans, Arial, sans-serif", color="#262626"),
    coloraxis=dict(
        colorscale=parula, cmin=0, cmax=1,
        colorbar=dict(
            x=1.0387, xanchor="left", y=0.5, yanchor="middle", len=1, lenmode="fraction",
            thickness=30, outlinewidth=1, outlinecolor="#262626",
            ticks="inside", ticklen=5, tickcolor="#262626", tick0=0, dtick=0.1,
            ticklabeloverflow="allow", tickfont=dict(size=15.5, color="#262626"),
        ),
    ),
)
fig.update_xaxes(axis_style, range=[0, 200], dtick=50, ticklabelstandoff=6,
                 title=dict(text="Cumulative binary generalizing loss", font=dict(size=17), standoff=15))
fig.update_yaxes(axis_style, range=[0, 35], dtick=5, ticklabelstandoff=2,
                 title=dict(text="Number of mal-generalizing events", font=dict(size=17), standoff=10))

fig.write_html("out.html")
